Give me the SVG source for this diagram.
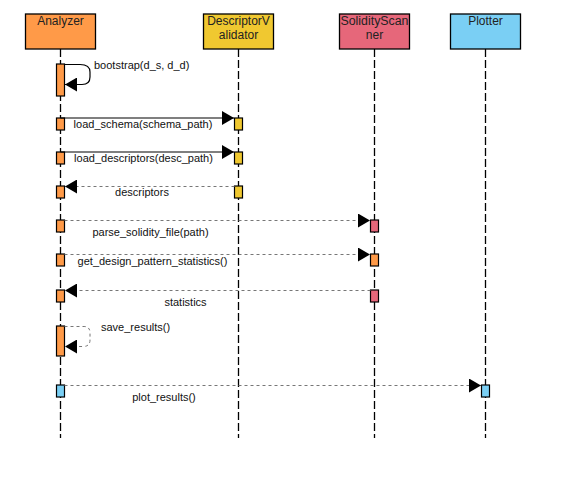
<svg xmlns="http://www.w3.org/2000/svg" width="580" height="478" viewBox="0 0 580 478">
<defs>
<marker id="ah" markerUnits="userSpaceOnUse" markerWidth="13" markerHeight="14" refX="12" refY="7" orient="auto">
<path d="M0,0 L12,7 L0,14 z" fill="#000"/>
</marker>
<style>
.hdr{stroke:#000;stroke-width:1.3}
.life{stroke:#000;stroke-width:1.3;stroke-dasharray:8 3;fill:none}
.act{stroke:#000;stroke-width:1.2}
.sync{stroke:#000;stroke-width:1.2;fill:none}
.dot{stroke:#777;stroke-width:1;stroke-dasharray:3 3;fill:none}
.t{font-family:"Liberation Sans",Arial,sans-serif;font-size:11px;fill:#111}
.h{font-family:"Liberation Sans",Arial,sans-serif;font-size:12px;fill:#222;text-anchor:middle}
.or{fill:#FF9A48}.ye{fill:#F0C830}.re{fill:#E6677A}.bl{fill:#7ACFF4}
</style>
</defs>
<rect width="580" height="478" fill="#fff"/>
<g id="analyzer">
<line class="life" x1="60.5" y1="49" x2="60.5" y2="438"/>
<rect class="hdr or" x="25.5" y="14" width="70" height="35"/>
<text class="h" x="60.5" y="25">Analyzer</text>
</g>
<g id="descriptorvalidator">
<line class="life" x1="238.5" y1="49" x2="238.5" y2="438"/>
<rect class="hdr ye" x="203.5" y="14" width="70" height="35"/>
<text class="h" x="238.5" y="25">DescriptorV</text>
<text class="h" x="238.5" y="39">alidator</text>
</g>
<g id="solidityscanner">
<line class="life" x1="374.5" y1="49" x2="374.5" y2="438"/>
<rect class="hdr re" x="339.5" y="14" width="70" height="35"/>
<text class="h" x="374.5" y="25" textLength="68" lengthAdjust="spacingAndGlyphs">SolidityScan</text>
<text class="h" x="374.5" y="39">ner</text>
</g>
<g id="plotter">
<line class="life" x1="485.5" y1="49" x2="485.5" y2="438"/>
<rect class="hdr bl" x="450.5" y="14" width="70" height="35"/>
<text class="h" x="485.5" y="25">Plotter</text>
</g>
<g id="activations">
<rect class="act or" x="56.5" y="64" width="8" height="32"/>
<rect class="act or" x="56.5" y="118" width="8" height="12"/>
<rect class="act ye" x="234.5" y="118" width="8" height="12"/>
<rect class="act or" x="56.5" y="152" width="8" height="12"/>
<rect class="act ye" x="234.5" y="152" width="8" height="12"/>
<rect class="act or" x="56.5" y="186" width="8" height="12"/>
<rect class="act ye" x="234.5" y="186" width="8" height="12"/>
<rect class="act or" x="56.5" y="220" width="8" height="12"/>
<rect class="act re" x="370.5" y="220" width="8" height="12"/>
<rect class="act or" x="56.5" y="254" width="8" height="12"/>
<rect class="act or" x="370.5" y="254" width="8" height="12"/>
<rect class="act or" x="56.5" y="290" width="8" height="12"/>
<rect class="act re" x="370.5" y="290" width="8" height="12"/>
<rect class="act or" x="56.5" y="326" width="8" height="30"/>
<rect class="act bl" x="56.5" y="385" width="8" height="12"/>
<rect class="act bl" x="481.5" y="385" width="8" height="12"/>
</g>
<g id="connectors">
<path class="sync" d="M64.5,64.5 H80 Q90,64.5 90,72 V77 Q90,84.5 82,84.5 H65" marker-end="url(#ah)"/>
<line class="sync" x1="60.5" y1="118" x2="234" y2="118" marker-end="url(#ah)"/>
<line class="sync" x1="60.5" y1="152" x2="234" y2="152" marker-end="url(#ah)"/>
<line class="dot" x1="234.5" y1="186.5" x2="65" y2="186.5" marker-end="url(#ah)"/>
<line class="dot" x1="64.5" y1="220.5" x2="370" y2="220.5" marker-end="url(#ah)"/>
<line class="dot" x1="64.5" y1="254.5" x2="370" y2="254.5" marker-end="url(#ah)"/>
<line class="dot" x1="370.5" y1="290.5" x2="65" y2="290.5" marker-end="url(#ah)"/>
<path class="dot" d="M64.5,326.5 H84 Q90,326.5 90,333 V340 Q90,346.5 83,346.5 H65" marker-end="url(#ah)"/>
<line class="dot" x1="64.5" y1="385.5" x2="481" y2="385.5" marker-end="url(#ah)"/>
</g>
<g id="labels">
<text class="t" x="94" y="69">bootstrap(d_s, d_d)</text>
<text class="t" x="143" y="128" text-anchor="middle">load_schema(schema_path)</text>
<text class="t" x="143.5" y="162" text-anchor="middle">load_descriptors(desc_path)</text>
<text class="t" x="142" y="196" text-anchor="middle">descriptors</text>
<text class="t" x="150.5" y="236" text-anchor="middle">parse_solidity_file(path)</text>
<text class="t" x="152.5" y="265" text-anchor="middle">get_design_pattern_statistics()</text>
<text class="t" x="185.5" y="306" text-anchor="middle">statistics</text>
<text class="t" x="101" y="331">save_results()</text>
<text class="t" x="164" y="401" text-anchor="middle">plot_results()</text>
</g>
</svg>
